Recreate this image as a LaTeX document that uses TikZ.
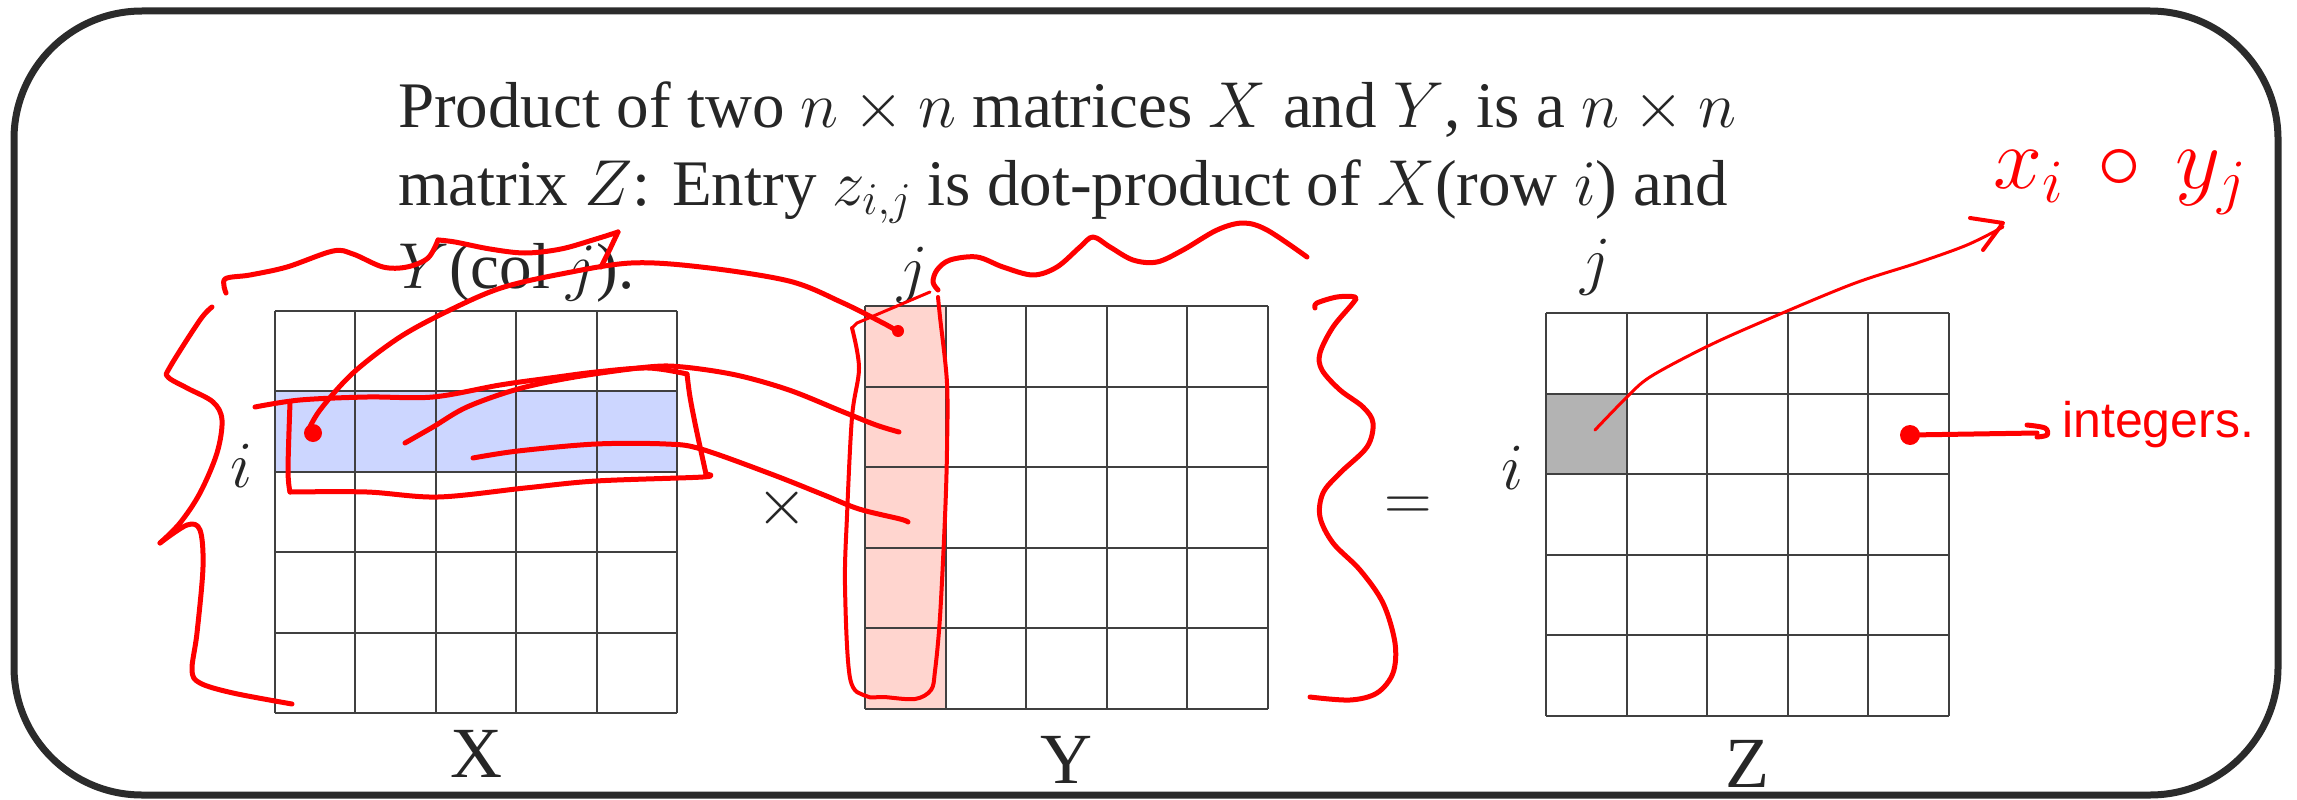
\RequirePackage{fix-cm}
\documentclass[tikz,border=0pt]{standalone}
\usepackage{fontspec}
\setmainfont{Liberation Serif}
\newfontfamily\handfont{Liberation Sans}
\usetikzlibrary{arrows.meta}
\definecolor{ink}{HTML}{262626}
\definecolor{framec}{HTML}{2B2B2B}
\definecolor{gridc}{HTML}{404040}
\definecolor{rowblue}{HTML}{CCD6FF}
\definecolor{colpink}{HTML}{FFD5CF}
\definecolor{cellgray}{HTML}{B3B3B3}
\definecolor{pen}{HTML}{FF0000}
\newcommand\matgrid[3]{%
  \foreach \k in {0,...,5} {
    \draw[gridline] ({#1+\k*#3},#2) -- ({#1+\k*#3},{#2+5*#3});
    \draw[gridline] (#1,{#2+\k*#3}) -- ({#1+5*#3},{#2+\k*#3});
  }}
\begin{document}
\begin{tikzpicture}[x=1pt,y=-1pt,
  gridline/.style={draw=gridc, line width=2pt},
  frame/.style={draw=framec, line width=7pt, rounded corners=128pt},
  maintext/.style={anchor=base west, inner sep=0pt, text=ink, font=\fontsize{65}{72}\selectfont},
  lbl/.style={inner sep=0pt, text=ink, font=\fontsize{66}{70}\selectfont},
  biglbl/.style={inner sep=0pt, text=ink, font=\fontsize{72}{80}\selectfont},
  penline/.style={draw=pen, line width=5pt, line cap=round, line join=round},
  thinpen/.style={draw=pen, line width=3pt, line cap=round, line join=round},
  hand/.style={inner sep=0pt, text=pen},
  sm/.style={smooth, tension=0.55}]
\useasboundingbox (0,0) rectangle (2297,800);

% frame
\draw[frame] (14,11) rectangle (2278,795);

% highlighted fills
\fill[rowblue] (275,391.4) rectangle (677,471.8);
\fill[colpink] (865,306) rectangle (945.6,709);
\fill[cellgray] (1546,393.6) rectangle (1626.6,474.2);

% grids
\matgrid{275}{311}{80.4}
\matgrid{865}{306}{80.6}
\matgrid{1546}{313}{80.6}

% text
\node[maintext] (l1) at (398,127) {Product of two $n\times n$ matrices $X$ and $Y$, is a $n\times n$};
\node[maintext] (l2) at (398,205) {matrix $Z$: Entry $z_{i,j}$ is dot-product of $X$(row $i$) and};
\node[maintext] (l3) at (398,288) {$Y$(col $j$).};

\node[lbl] (iX) at (242,466) {$i$};
\node[lbl] (jY) at (913,275) {$j$};
\node[lbl] (jZ) at (1596,267) {$j$};
\node[lbl] (iZ) at (1513,468) {$i$};
\node[lbl] (times) at (782,508) {$\times$};
\node[lbl] (eq) at (1408,509) {$=$};
\node[biglbl] (lX) at (476,754) {X};
\node[biglbl] (lY) at (1066,760) {Y};
\node[biglbl] (lZ) at (1747,764) {Z};

% red annotations
% top of left brace, over Y(col j)
\draw[penline] plot[sm] coordinates {(226,293) (225,279) (250,275) (287,267) (333,251) (353,254) (383,267) (407,267) (428,258) (438,240)};
\draw[penline] plot[sm] coordinates {(438,240) (455,242) (490,249) (525,253) (561,249) (596,239) (618,232)};
\draw[penline] (618,232) -- (610,249) -- (601,267);
% left brace body
\draw[penline] plot[sm] coordinates {(212,307) (200,320) (170,367) (168,377) (187,388) (213,402) (222,420) (217,453) (200,493) (180,523) (160,543)};
\draw[penline] plot[sm] coordinates {(160,543) (187,525) (200,530) (203,567) (197,633) (192,670) (200,683) (233,693) (292,704)};
% box around row i
\draw[penline] plot[sm] coordinates {(255,407) (300,400) (367,397) (433,397) (500,385) (550,378) (596,372) (648,368) (687,374)};
\draw[penline] plot[sm] coordinates {(687,374) (690,397) (696,428) (706,474)};
\draw[penline] plot[sm] coordinates {(706,474) (703,477) (596,481) (525,488) (438,497) (367,492) (290,492)};
\draw[penline] plot[sm] coordinates {(290,492) (288,470) (290,403)};
% strokes from row to column
\fill[pen] (313,433) circle (9);
\draw[penline] plot[sm] coordinates {(307,433) (320,410) (353,373) (400,337) (450,310) (501,288) (561,274) (631,263) (701,267) (789,281) (841,302) (883,323) (897,331)};
\fill[pen] (898,331) circle (6);
\draw[penline] plot[sm] coordinates {(405,443) (433,427) (467,407) (518,389) (575,377) (648,367) (683,367) (736,375) (789,390) (841,411) (876,425) (899,432)};
\draw[penline] plot[sm] coordinates {(473,458) (518,451) (596,444) (666,444) (701,449) (771,474) (824,495) (859,509) (900,519) (908,522)};
% box around column j
\draw[thinpen, line width=4pt] plot[sm] coordinates {(938,297) (940,317) (947,383) (947,450) (945,517) (940,617) (935,671) (931,690) (915,699) (884,697) (866,696) (850,678) (845,586) (847,516) (852,417) (859,368) (852,328)};
\draw[thinpen] (852,328) -- (857,323) -- (930,292);
% wiggle above Y
\draw[penline] plot[sm] coordinates {(938,290) (933,282) (937,270) (950,260) (977,257) (1003,267) (1033,275) (1057,267) (1080,247) (1093,237) (1110,247) (1133,260) (1157,262) (1183,250) (1217,230) (1243,223) (1267,230) (1307,257)};
% right brace
\draw[penline] plot[sm] coordinates {(1315,308) (1317,303) (1337,297) (1355,297) (1353,303) (1333,327) (1320,353) (1322,370) (1340,390) (1363,407) (1373,423) (1367,447) (1340,473) (1323,493) (1320,517) (1333,543) (1360,570) (1383,603) (1395,643) (1393,673) (1377,693) (1350,700) (1310,697)};

% x_i o y_j
\node[hand, font=\fontsize{88}{92}\selectfont] (dot) at (2120,182) {$x_{i}\,\circ\, y_{j}$};
\coordinate (zs) at (1595,430);
\draw[thinpen] plot[sm] coordinates {(zs) (1627,397) (1650,377) (1700,350) (1750,327) (1850,285) (1917,263) (1967,245) (2003,227)};
\draw[thinpen, line width=4pt] (1970,218) -- (2003,223) -- (1983,250);

% integers
\fill[pen] (1910,435) circle (10);
\draw[penline] (1910,435) -- (2037,433);
\draw[penline] plot[sm] coordinates {(2027,425) (2045,428) (2047,435) (2037,437)};
\node[hand, anchor=base west, font=\handfont\fontsize{50}{54}\selectfont] (intg) at (2062,437) {integers.};
\end{tikzpicture}
\end{document}
